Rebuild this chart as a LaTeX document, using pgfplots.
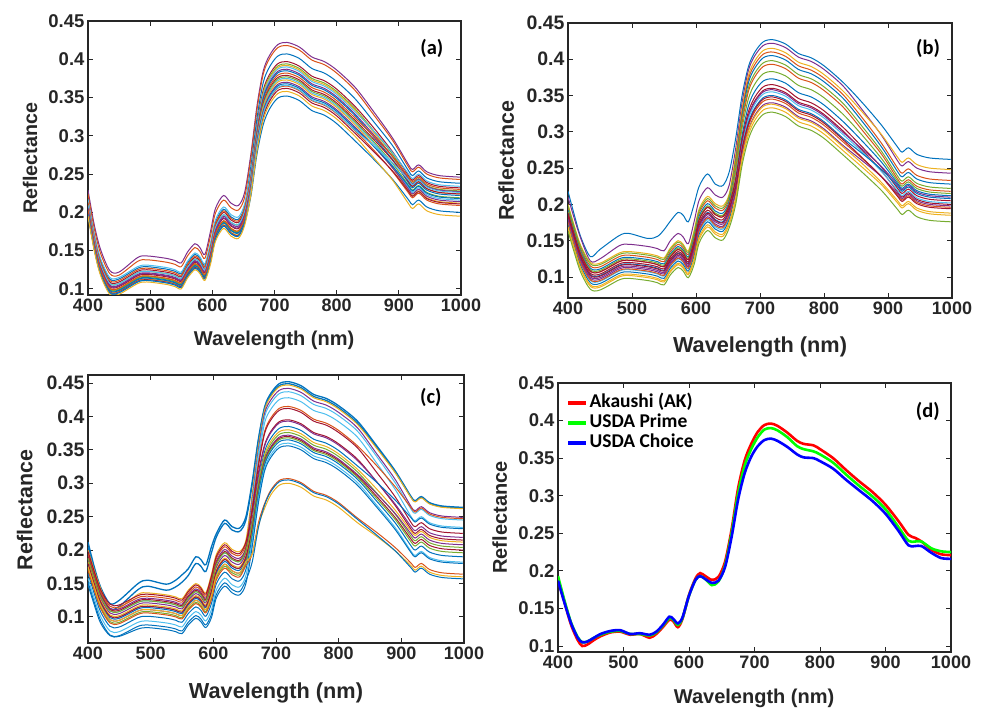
\documentclass[border=0pt]{standalone}
\usepackage{fontspec}
\setmainfont{Liberation Sans}
\newfontfamily\calib{Carlito}
\usepackage{pgfplots}
\usepackage{pgfplotstable}
\pgfplotsset{compat=1.18}
\definecolor{mb}{HTML}{0072BD}
\definecolor{mo}{HTML}{D95319}
\definecolor{my}{HTML}{EDB120}
\definecolor{mp}{HTML}{7E2F8E}
\definecolor{mg}{HTML}{77AC30}
\definecolor{mc}{HTML}{4DBEEE}
\definecolor{mr}{HTML}{A2142F}
\definecolor{axc}{HTML}{262626}

\pgfplotstableread{
lam c1 c2 c3 c4 c5 c6 c7 c8 c9 c10 c11 c12 c13 c14 c15 c16 c17 c18 c19 c20 c21
400 0.229 0.224 0.215 0.211 0.209 0.203 0.217 0.207 0.201 0.213 0.205 0.202 0.209 0.199 0.206 0.200 0.203 0.198 0.197 0.197 0.195
410 0.184 0.179 0.170 0.166 0.164 0.158 0.172 0.162 0.156 0.168 0.160 0.157 0.164 0.154 0.161 0.155 0.158 0.153 0.152 0.152 0.150
420 0.152 0.147 0.138 0.134 0.132 0.126 0.140 0.130 0.124 0.136 0.128 0.125 0.132 0.122 0.129 0.123 0.126 0.121 0.120 0.120 0.118
435 0.124 0.120 0.113 0.109 0.107 0.101 0.115 0.105 0.099 0.111 0.103 0.100 0.107 0.097 0.104 0.098 0.101 0.096 0.095 0.095 0.093
450 0.122 0.118 0.113 0.109 0.107 0.101 0.115 0.105 0.099 0.111 0.103 0.100 0.107 0.097 0.104 0.098 0.101 0.096 0.095 0.095 0.093
480 0.141 0.136 0.127 0.123 0.121 0.115 0.129 0.119 0.113 0.125 0.117 0.114 0.121 0.111 0.118 0.112 0.115 0.110 0.109 0.109 0.107
495 0.143 0.138 0.129 0.125 0.123 0.117 0.131 0.121 0.115 0.127 0.119 0.116 0.123 0.113 0.120 0.114 0.117 0.112 0.111 0.111 0.109
525 0.140 0.135 0.126 0.122 0.120 0.114 0.128 0.118 0.112 0.124 0.116 0.113 0.120 0.110 0.117 0.111 0.114 0.109 0.108 0.108 0.106
540 0.137 0.132 0.123 0.119 0.117 0.111 0.125 0.115 0.109 0.121 0.113 0.110 0.117 0.107 0.114 0.108 0.111 0.106 0.105 0.105 0.103
550 0.134 0.129 0.120 0.116 0.114 0.108 0.122 0.112 0.106 0.118 0.110 0.107 0.114 0.104 0.111 0.105 0.108 0.103 0.102 0.102 0.100
560 0.148 0.143 0.134 0.130 0.128 0.122 0.136 0.126 0.120 0.132 0.124 0.121 0.128 0.118 0.125 0.119 0.122 0.117 0.116 0.116 0.114
572 0.159 0.154 0.145 0.141 0.139 0.133 0.147 0.137 0.131 0.143 0.135 0.132 0.139 0.129 0.136 0.130 0.133 0.128 0.127 0.127 0.125
580 0.154 0.149 0.140 0.136 0.134 0.128 0.142 0.132 0.126 0.138 0.130 0.127 0.134 0.124 0.131 0.125 0.128 0.123 0.122 0.122 0.120
588 0.145 0.140 0.131 0.127 0.125 0.119 0.133 0.123 0.117 0.129 0.121 0.118 0.125 0.115 0.122 0.116 0.119 0.114 0.113 0.113 0.111
597 0.175 0.169 0.157 0.153 0.150 0.142 0.160 0.148 0.140 0.155 0.145 0.141 0.150 0.137 0.146 0.139 0.142 0.136 0.135 0.135 0.132
605 0.205 0.199 0.187 0.183 0.180 0.172 0.190 0.178 0.170 0.185 0.175 0.171 0.180 0.167 0.176 0.169 0.172 0.166 0.165 0.165 0.162
618 0.222 0.216 0.204 0.200 0.197 0.189 0.207 0.195 0.187 0.202 0.192 0.188 0.197 0.184 0.193 0.186 0.189 0.183 0.182 0.182 0.179
630 0.212 0.206 0.194 0.190 0.187 0.179 0.197 0.185 0.177 0.192 0.182 0.178 0.187 0.174 0.183 0.176 0.179 0.173 0.172 0.172 0.169
642 0.209 0.203 0.191 0.187 0.184 0.176 0.194 0.182 0.174 0.189 0.179 0.175 0.184 0.171 0.180 0.173 0.176 0.170 0.169 0.169 0.166
652 0.226 0.220 0.208 0.204 0.201 0.193 0.211 0.199 0.191 0.206 0.196 0.192 0.201 0.188 0.197 0.190 0.193 0.187 0.186 0.186 0.183
662 0.276 0.271 0.260 0.253 0.250 0.245 0.253 0.245 0.241 0.246 0.240 0.237 0.240 0.233 0.236 0.231 0.232 0.227 0.228 0.221 0.223
672 0.340 0.335 0.324 0.315 0.312 0.309 0.312 0.307 0.303 0.305 0.300 0.298 0.298 0.294 0.294 0.290 0.289 0.285 0.288 0.277 0.281
682 0.385 0.381 0.370 0.360 0.357 0.355 0.353 0.350 0.348 0.345 0.342 0.340 0.338 0.336 0.333 0.331 0.328 0.325 0.329 0.315 0.321
692 0.405 0.401 0.390 0.380 0.377 0.375 0.373 0.370 0.368 0.365 0.362 0.360 0.358 0.356 0.353 0.351 0.348 0.345 0.349 0.335 0.341
705 0.419 0.415 0.404 0.394 0.391 0.389 0.387 0.384 0.382 0.379 0.376 0.374 0.372 0.370 0.367 0.365 0.362 0.359 0.363 0.349 0.355
720 0.422 0.418 0.407 0.397 0.394 0.392 0.390 0.387 0.385 0.382 0.379 0.377 0.375 0.373 0.370 0.368 0.365 0.362 0.366 0.352 0.358
740 0.416 0.412 0.401 0.391 0.388 0.386 0.384 0.381 0.379 0.376 0.373 0.371 0.369 0.367 0.364 0.362 0.359 0.356 0.360 0.346 0.352
760 0.403 0.399 0.388 0.378 0.375 0.373 0.371 0.368 0.366 0.363 0.360 0.358 0.356 0.354 0.351 0.349 0.346 0.343 0.347 0.333 0.339
780 0.397 0.393 0.382 0.372 0.369 0.367 0.365 0.362 0.360 0.357 0.354 0.352 0.350 0.348 0.345 0.343 0.340 0.337 0.341 0.327 0.333
800 0.386 0.382 0.371 0.361 0.358 0.356 0.354 0.351 0.349 0.346 0.343 0.341 0.339 0.337 0.334 0.332 0.329 0.326 0.330 0.316 0.322
830 0.363 0.359 0.348 0.338 0.335 0.333 0.331 0.328 0.326 0.323 0.320 0.318 0.316 0.314 0.311 0.309 0.306 0.303 0.307 0.293 0.299
860 0.331 0.327 0.318 0.310 0.306 0.304 0.306 0.301 0.298 0.299 0.295 0.292 0.290 0.287 0.286 0.286 0.281 0.279 0.287 0.269 0.271
890 0.297 0.294 0.287 0.279 0.276 0.272 0.278 0.273 0.269 0.273 0.268 0.264 0.261 0.258 0.258 0.260 0.253 0.254 0.265 0.243 0.242
915 0.263 0.260 0.255 0.249 0.245 0.241 0.251 0.244 0.239 0.247 0.241 0.236 0.233 0.229 0.231 0.235 0.226 0.228 0.243 0.217 0.212
922 0.256 0.253 0.248 0.242 0.238 0.234 0.244 0.237 0.232 0.240 0.234 0.229 0.226 0.222 0.224 0.228 0.219 0.221 0.236 0.210 0.205
932 0.262 0.259 0.254 0.248 0.244 0.240 0.250 0.243 0.238 0.246 0.240 0.235 0.232 0.228 0.230 0.234 0.225 0.227 0.242 0.216 0.211
945 0.253 0.250 0.245 0.239 0.235 0.231 0.241 0.234 0.229 0.237 0.231 0.226 0.223 0.219 0.221 0.225 0.216 0.218 0.233 0.207 0.202
965 0.248 0.245 0.240 0.234 0.230 0.226 0.236 0.229 0.224 0.232 0.226 0.221 0.218 0.214 0.216 0.220 0.211 0.213 0.228 0.202 0.197
998 0.246 0.243 0.238 0.232 0.228 0.224 0.234 0.227 0.222 0.230 0.224 0.219 0.216 0.212 0.214 0.218 0.209 0.211 0.226 0.200 0.195
}\tA

\pgfplotstableread{
lam c1 c2 c3 c4 c5 c6 c7 c8 c9 c10 c11 c12 c13 c14 c15 c16 c17 c18 c19 c20
400 0.218 0.210 0.200 0.195 0.192 0.198 0.188 0.190 0.183 0.188 0.182 0.178 0.175 0.172 0.176 0.180 0.169 0.185 0.167 0.163
410 0.185 0.180 0.170 0.165 0.162 0.168 0.158 0.160 0.153 0.158 0.152 0.148 0.145 0.142 0.146 0.150 0.139 0.155 0.137 0.133
420 0.155 0.153 0.143 0.138 0.135 0.141 0.131 0.133 0.126 0.131 0.125 0.121 0.118 0.115 0.119 0.123 0.112 0.128 0.110 0.106
435 0.128 0.122 0.120 0.115 0.112 0.118 0.108 0.110 0.103 0.108 0.102 0.098 0.095 0.092 0.096 0.100 0.089 0.105 0.087 0.083
450 0.138 0.125 0.119 0.114 0.111 0.117 0.107 0.109 0.102 0.107 0.101 0.097 0.094 0.091 0.095 0.099 0.088 0.104 0.086 0.082
480 0.157 0.143 0.133 0.128 0.125 0.131 0.121 0.123 0.116 0.121 0.115 0.111 0.108 0.105 0.109 0.113 0.102 0.118 0.100 0.096
495 0.160 0.145 0.135 0.130 0.127 0.133 0.123 0.125 0.118 0.123 0.117 0.113 0.110 0.107 0.111 0.115 0.104 0.120 0.102 0.098
525 0.153 0.142 0.132 0.127 0.124 0.130 0.120 0.122 0.115 0.120 0.114 0.110 0.107 0.104 0.108 0.112 0.101 0.117 0.099 0.095
540 0.156 0.139 0.129 0.124 0.121 0.127 0.117 0.119 0.112 0.117 0.111 0.107 0.104 0.101 0.105 0.109 0.098 0.114 0.096 0.092
550 0.165 0.136 0.126 0.121 0.118 0.124 0.114 0.116 0.109 0.114 0.108 0.104 0.101 0.098 0.102 0.106 0.095 0.111 0.093 0.089
560 0.177 0.150 0.140 0.135 0.132 0.138 0.128 0.130 0.123 0.128 0.122 0.118 0.115 0.112 0.116 0.120 0.109 0.125 0.107 0.103
572 0.189 0.160 0.150 0.145 0.142 0.148 0.138 0.140 0.133 0.138 0.132 0.128 0.125 0.122 0.126 0.130 0.119 0.135 0.117 0.113
580 0.185 0.155 0.145 0.140 0.137 0.143 0.133 0.135 0.128 0.133 0.127 0.123 0.120 0.117 0.121 0.125 0.114 0.130 0.112 0.108
588 0.176 0.146 0.136 0.131 0.128 0.134 0.124 0.126 0.119 0.124 0.118 0.114 0.111 0.108 0.112 0.116 0.105 0.121 0.103 0.099
597 0.200 0.176 0.164 0.158 0.154 0.161 0.149 0.151 0.142 0.149 0.141 0.136 0.132 0.129 0.134 0.139 0.125 0.145 0.122 0.117
605 0.225 0.206 0.194 0.188 0.184 0.191 0.179 0.181 0.172 0.179 0.171 0.166 0.162 0.159 0.164 0.169 0.155 0.175 0.152 0.147
618 0.242 0.223 0.211 0.205 0.201 0.208 0.196 0.198 0.189 0.196 0.188 0.183 0.179 0.176 0.181 0.186 0.172 0.192 0.169 0.164
630 0.228 0.213 0.201 0.195 0.191 0.198 0.186 0.188 0.179 0.186 0.178 0.173 0.169 0.166 0.171 0.176 0.162 0.182 0.159 0.154
642 0.226 0.210 0.198 0.192 0.188 0.195 0.183 0.185 0.176 0.183 0.175 0.170 0.166 0.163 0.168 0.173 0.159 0.179 0.156 0.151
652 0.245 0.227 0.215 0.209 0.205 0.212 0.200 0.202 0.193 0.200 0.192 0.187 0.183 0.180 0.185 0.190 0.176 0.196 0.173 0.168
662 0.291 0.277 0.268 0.262 0.258 0.258 0.249 0.245 0.235 0.235 0.228 0.225 0.221 0.217 0.217 0.217 0.209 0.224 0.205 0.200
672 0.350 0.340 0.332 0.327 0.322 0.318 0.312 0.305 0.295 0.290 0.285 0.282 0.279 0.274 0.272 0.269 0.264 0.277 0.260 0.254
682 0.390 0.385 0.378 0.373 0.368 0.361 0.356 0.346 0.336 0.328 0.323 0.321 0.318 0.313 0.308 0.303 0.301 0.311 0.296 0.290
692 0.410 0.405 0.398 0.393 0.388 0.381 0.376 0.366 0.356 0.348 0.343 0.341 0.338 0.333 0.328 0.323 0.321 0.331 0.316 0.310
705 0.424 0.419 0.412 0.407 0.402 0.395 0.390 0.380 0.370 0.362 0.357 0.355 0.352 0.347 0.342 0.337 0.335 0.345 0.330 0.324
720 0.427 0.422 0.415 0.410 0.405 0.398 0.393 0.383 0.373 0.365 0.360 0.358 0.355 0.350 0.345 0.340 0.338 0.348 0.333 0.327
740 0.421 0.416 0.409 0.404 0.399 0.392 0.387 0.377 0.367 0.359 0.354 0.352 0.349 0.344 0.339 0.334 0.332 0.342 0.327 0.321
760 0.408 0.403 0.396 0.391 0.386 0.379 0.374 0.364 0.354 0.346 0.341 0.339 0.336 0.331 0.326 0.321 0.319 0.329 0.314 0.308
780 0.402 0.397 0.390 0.385 0.380 0.373 0.368 0.358 0.348 0.340 0.335 0.333 0.330 0.325 0.320 0.315 0.313 0.323 0.308 0.302
800 0.391 0.386 0.379 0.374 0.369 0.362 0.357 0.347 0.337 0.329 0.324 0.322 0.319 0.314 0.309 0.304 0.302 0.312 0.297 0.291
830 0.368 0.363 0.356 0.351 0.346 0.339 0.334 0.324 0.314 0.306 0.301 0.299 0.296 0.291 0.286 0.281 0.279 0.289 0.274 0.268
860 0.340 0.330 0.327 0.319 0.314 0.307 0.302 0.295 0.287 0.279 0.274 0.276 0.272 0.270 0.263 0.260 0.256 0.264 0.251 0.244
890 0.309 0.295 0.296 0.284 0.279 0.273 0.269 0.263 0.258 0.251 0.246 0.252 0.245 0.248 0.238 0.238 0.230 0.238 0.227 0.219
915 0.279 0.260 0.265 0.250 0.245 0.239 0.235 0.232 0.229 0.222 0.217 0.227 0.219 0.225 0.213 0.215 0.205 0.211 0.202 0.193
922 0.272 0.253 0.258 0.243 0.238 0.232 0.228 0.225 0.222 0.215 0.210 0.220 0.212 0.218 0.206 0.208 0.198 0.204 0.195 0.186
932 0.278 0.259 0.264 0.249 0.244 0.238 0.234 0.231 0.228 0.221 0.216 0.226 0.218 0.224 0.212 0.214 0.204 0.210 0.201 0.192
945 0.269 0.250 0.255 0.240 0.235 0.229 0.225 0.222 0.219 0.212 0.207 0.217 0.209 0.215 0.203 0.205 0.195 0.201 0.192 0.183
965 0.264 0.245 0.250 0.235 0.230 0.224 0.220 0.217 0.214 0.207 0.202 0.212 0.204 0.210 0.198 0.200 0.190 0.196 0.187 0.178
998 0.262 0.243 0.248 0.233 0.228 0.222 0.218 0.215 0.212 0.205 0.200 0.210 0.202 0.208 0.196 0.198 0.188 0.194 0.185 0.176
}\tB

\pgfplotstableread{
lam c1 c2 c3 c4 c5 c6 c7 c8 c9 c10 c11 c12 c13 c14 c15 c16 c17 c18 c19 c20 c21 c22
400 0.212 0.200 0.192 0.188 0.180 0.195 0.190 0.198 0.185 0.178 0.182 0.188 0.175 0.180 0.172 0.165 0.158 0.148 0.170 0.175 0.152 0.205
410 0.175 0.170 0.162 0.158 0.150 0.165 0.160 0.168 0.155 0.148 0.152 0.158 0.145 0.150 0.142 0.135 0.128 0.118 0.140 0.145 0.122 0.168
420 0.145 0.143 0.135 0.131 0.123 0.138 0.133 0.141 0.128 0.121 0.125 0.131 0.118 0.123 0.115 0.108 0.101 0.091 0.113 0.118 0.095 0.137
435 0.120 0.112 0.113 0.109 0.101 0.116 0.111 0.119 0.106 0.099 0.103 0.109 0.096 0.101 0.093 0.086 0.079 0.072 0.091 0.096 0.073 0.112
450 0.125 0.113 0.112 0.108 0.100 0.115 0.110 0.118 0.105 0.098 0.102 0.108 0.095 0.100 0.092 0.085 0.078 0.071 0.090 0.095 0.072 0.116
480 0.150 0.134 0.126 0.122 0.114 0.129 0.124 0.132 0.119 0.112 0.116 0.122 0.109 0.114 0.106 0.099 0.092 0.082 0.104 0.109 0.086 0.141
495 0.155 0.136 0.128 0.124 0.116 0.131 0.126 0.134 0.121 0.114 0.118 0.124 0.111 0.116 0.108 0.101 0.094 0.084 0.106 0.111 0.088 0.146
525 0.149 0.133 0.125 0.121 0.113 0.128 0.123 0.131 0.118 0.111 0.115 0.121 0.108 0.113 0.105 0.098 0.091 0.081 0.103 0.108 0.085 0.140
540 0.155 0.130 0.122 0.118 0.110 0.125 0.120 0.128 0.115 0.108 0.112 0.118 0.105 0.110 0.102 0.095 0.088 0.078 0.100 0.105 0.082 0.145
550 0.163 0.127 0.119 0.115 0.107 0.122 0.117 0.125 0.112 0.105 0.109 0.115 0.102 0.107 0.099 0.092 0.085 0.075 0.097 0.102 0.079 0.152
560 0.172 0.140 0.132 0.128 0.120 0.135 0.130 0.138 0.125 0.118 0.122 0.128 0.115 0.120 0.112 0.105 0.098 0.088 0.110 0.115 0.092 0.162
572 0.190 0.150 0.142 0.138 0.130 0.145 0.140 0.148 0.135 0.128 0.132 0.138 0.125 0.130 0.122 0.115 0.108 0.098 0.120 0.125 0.102 0.180
580 0.186 0.145 0.137 0.133 0.125 0.140 0.135 0.143 0.130 0.123 0.127 0.133 0.120 0.125 0.117 0.110 0.103 0.093 0.115 0.120 0.097 0.176
588 0.178 0.136 0.128 0.124 0.116 0.131 0.126 0.134 0.121 0.114 0.118 0.124 0.111 0.116 0.108 0.101 0.094 0.084 0.106 0.111 0.088 0.168
597 0.205 0.164 0.154 0.149 0.139 0.158 0.151 0.161 0.145 0.136 0.141 0.149 0.132 0.139 0.129 0.120 0.111 0.099 0.126 0.132 0.104 0.196
605 0.225 0.194 0.184 0.179 0.169 0.188 0.181 0.191 0.175 0.166 0.171 0.179 0.162 0.169 0.159 0.150 0.141 0.129 0.156 0.162 0.134 0.220
618 0.245 0.211 0.201 0.196 0.186 0.205 0.198 0.208 0.192 0.183 0.188 0.196 0.179 0.186 0.176 0.167 0.158 0.146 0.173 0.179 0.151 0.240
630 0.235 0.201 0.191 0.186 0.176 0.195 0.188 0.198 0.182 0.173 0.178 0.186 0.169 0.176 0.166 0.157 0.148 0.136 0.163 0.169 0.141 0.230
642 0.233 0.198 0.188 0.183 0.173 0.192 0.185 0.195 0.179 0.170 0.175 0.183 0.166 0.173 0.163 0.154 0.145 0.133 0.160 0.166 0.138 0.228
652 0.250 0.215 0.205 0.200 0.190 0.209 0.202 0.212 0.196 0.187 0.192 0.200 0.183 0.190 0.180 0.171 0.162 0.150 0.177 0.183 0.155 0.245
662 0.302 0.284 0.276 0.271 0.262 0.265 0.260 0.256 0.247 0.238 0.238 0.241 0.230 0.232 0.226 0.220 0.213 0.205 0.194 0.194 0.182 0.298
672 0.367 0.356 0.350 0.345 0.335 0.330 0.326 0.316 0.311 0.302 0.300 0.299 0.291 0.292 0.288 0.283 0.277 0.271 0.241 0.237 0.234 0.364
682 0.415 0.410 0.405 0.400 0.391 0.378 0.375 0.358 0.356 0.348 0.343 0.339 0.335 0.333 0.331 0.328 0.323 0.319 0.270 0.263 0.268 0.412
692 0.435 0.430 0.425 0.420 0.411 0.398 0.395 0.378 0.376 0.368 0.363 0.359 0.355 0.353 0.351 0.348 0.343 0.339 0.290 0.283 0.288 0.432
705 0.449 0.444 0.439 0.434 0.425 0.412 0.409 0.392 0.390 0.382 0.377 0.373 0.369 0.367 0.365 0.362 0.357 0.353 0.304 0.297 0.302 0.446
720 0.452 0.447 0.442 0.437 0.428 0.415 0.412 0.395 0.393 0.385 0.380 0.376 0.372 0.370 0.368 0.365 0.360 0.356 0.307 0.300 0.305 0.449
740 0.446 0.441 0.436 0.431 0.422 0.409 0.406 0.389 0.387 0.379 0.374 0.370 0.366 0.364 0.362 0.359 0.354 0.350 0.301 0.294 0.299 0.443
760 0.433 0.428 0.423 0.418 0.409 0.396 0.393 0.376 0.374 0.366 0.361 0.357 0.353 0.351 0.349 0.346 0.341 0.337 0.288 0.281 0.286 0.430
780 0.427 0.422 0.417 0.412 0.403 0.390 0.387 0.370 0.368 0.360 0.355 0.351 0.347 0.345 0.343 0.340 0.335 0.331 0.282 0.275 0.280 0.424
800 0.416 0.411 0.406 0.401 0.392 0.379 0.376 0.359 0.357 0.349 0.344 0.340 0.336 0.334 0.332 0.329 0.324 0.320 0.271 0.264 0.269 0.413
830 0.393 0.388 0.383 0.378 0.369 0.356 0.353 0.336 0.334 0.326 0.321 0.317 0.313 0.311 0.309 0.306 0.301 0.297 0.248 0.241 0.246 0.390
860 0.357 0.353 0.345 0.341 0.331 0.327 0.317 0.303 0.303 0.302 0.292 0.286 0.285 0.281 0.278 0.274 0.268 0.265 0.227 0.221 0.223 0.355
890 0.319 0.316 0.306 0.301 0.291 0.295 0.280 0.267 0.269 0.275 0.260 0.254 0.255 0.249 0.246 0.241 0.234 0.231 0.204 0.199 0.199 0.317
915 0.281 0.279 0.266 0.262 0.251 0.264 0.242 0.232 0.236 0.249 0.229 0.221 0.225 0.217 0.213 0.207 0.199 0.197 0.181 0.177 0.174 0.280
922 0.274 0.272 0.259 0.255 0.244 0.257 0.235 0.225 0.229 0.242 0.222 0.214 0.218 0.210 0.206 0.200 0.192 0.190 0.174 0.170 0.167 0.273
932 0.280 0.278 0.265 0.261 0.250 0.263 0.241 0.231 0.235 0.248 0.228 0.220 0.224 0.216 0.212 0.206 0.198 0.196 0.180 0.176 0.173 0.279
945 0.271 0.269 0.256 0.252 0.241 0.254 0.232 0.222 0.226 0.239 0.219 0.211 0.215 0.207 0.203 0.197 0.189 0.187 0.171 0.167 0.164 0.270
965 0.266 0.264 0.251 0.247 0.236 0.249 0.227 0.217 0.221 0.234 0.214 0.206 0.210 0.202 0.198 0.192 0.184 0.182 0.166 0.162 0.159 0.265
998 0.264 0.262 0.249 0.245 0.234 0.247 0.225 0.215 0.219 0.232 0.212 0.204 0.208 0.200 0.196 0.190 0.182 0.180 0.164 0.160 0.157 0.263
}\tC

\pgfplotstableread{
lam ak pr ch
400 0.188 0.193 0.187
410 0.158 0.160 0.157
420 0.128 0.131 0.130
430 0.108 0.112 0.111
437 0.100 0.105 0.105
445 0.102 0.106 0.106
455 0.108 0.111 0.111
465 0.113 0.115 0.116
480 0.118 0.119 0.120
495 0.119 0.120 0.121
510 0.115 0.116 0.116
525 0.116 0.116 0.117
540 0.111 0.114 0.115
550 0.116 0.118 0.119
560 0.125 0.127 0.128
570 0.135 0.137 0.139
576 0.133 0.135 0.136
583 0.125 0.128 0.130
590 0.136 0.137 0.138
600 0.168 0.167 0.167
610 0.190 0.188 0.188
617 0.197 0.193 0.193
625 0.193 0.189 0.189
635 0.188 0.181 0.184
645 0.192 0.186 0.187
655 0.212 0.207 0.205
665 0.255 0.250 0.245
675 0.310 0.303 0.295
685 0.347 0.340 0.330
695 0.369 0.362 0.352
705 0.385 0.378 0.366
715 0.394 0.388 0.374
725 0.396 0.390 0.376
735 0.393 0.387 0.373
750 0.384 0.378 0.365
765 0.373 0.366 0.355
775 0.369 0.362 0.351
790 0.367 0.359 0.350
800 0.362 0.355 0.346
820 0.350 0.344 0.336
840 0.334 0.328 0.321
860 0.319 0.313 0.307
880 0.305 0.299 0.293
900 0.288 0.282 0.276
920 0.266 0.258 0.253
935 0.248 0.240 0.234
945 0.244 0.239 0.233
955 0.239 0.239 0.233
970 0.228 0.230 0.224
985 0.222 0.226 0.217
1000 0.221 0.225 0.216
}\tD

\pgfplotsset{
  mat/.style={
    scale only axis,
    axis line style={draw=axc, line width=1.2pt},
    tick style={draw=axc, line width=0.9pt},
    major tick length=5pt,
    tick align=inside,
    xmin=400, xmax=1000,
    xtick={400,500,600,700,800,900,1000},
    xticklabels={400,500,600,700,800,900,1000},
    ytick={0.1,0.15,0.2,0.25,0.3,0.35,0.4,0.45},
    yticklabels={0.1,0.15,0.2,0.25,0.3,0.35,0.4,0.45},
    /pgf/number format/assume math mode=true,
    xticklabel style={font=\fontsize{18}{20}\selectfont\bfseries, text=axc},
    yticklabel style={font=\fontsize{18.5}{20}\selectfont\bfseries, text=axc},
    xlabel={Wavelength (nm)}, ylabel={Reflectance},
    table/x=lam,
    every axis plot/.append style={no markers, line width=1pt, smooth, tension=0.5},
  }
}
\newcommand{\cv}[3]{\addplot[#1] table[y=c#2]{#3};}

\begin{document}
\begin{tikzpicture}
\path[use as bounding box] (0,0) rectangle (987pt,709pt);

% (a)
\begin{axis}[mat, at={(88pt,414pt)}, anchor=south west, width=373pt, height=274pt,
  ymin=0.092, ymax=0.45,
  xlabel style={at={(axis description cs:0.499,-0.164)}, anchor=center, font=\fontsize{20}{22}\selectfont\bfseries, text=axc},
  ylabel style={at={(axis description cs:-0.155,0.5)}, anchor=center, font=\fontsize{19.7}{22}\selectfont\bfseries, text=axc}]
\cv{mp}{1}{\tA}\cv{mo}{2}{\tA}\cv{mb}{3}{\tA}\cv{mr}{4}{\tA}\cv{mg}{5}{\tA}\cv{my}{6}{\tA}\cv{mc}{7}{\tA}
\cv{mp}{8}{\tA}\cv{mb}{9}{\tA}\cv{mo}{10}{\tA}\cv{mr}{11}{\tA}\cv{mg}{12}{\tA}\cv{mc}{13}{\tA}\cv{my}{14}{\tA}
\cv{mp}{15}{\tA}\cv{mb}{16}{\tA}\cv{mo}{17}{\tA}\cv{mr}{18}{\tA}\cv{mc}{19}{\tA}\cv{mb}{20}{\tA}\cv{my}{21}{\tA}
\node[font=\calib\bfseries\fontsize{20.5}{22}\selectfont] at (rel axis cs:0.922,0.898) {(a)};
\end{axis}

% (b)
\begin{axis}[mat, at={(568pt,411pt)}, anchor=south west, width=384pt, height=275pt,
  ymin=0.071, ymax=0.45,
  yticklabel style={font=\fontsize{19.5}{21}\selectfont\bfseries},
  xlabel style={at={(axis description cs:0.5,-0.178)}, anchor=center, font=\fontsize{21.7}{24}\selectfont\bfseries, text=axc},
  ylabel style={at={(axis description cs:-0.161,0.5)}, anchor=center, font=\fontsize{21.4}{24}\selectfont\bfseries, text=axc}]
\cv{mb}{1}{\tB}\cv{mp}{2}{\tB}\cv{my}{3}{\tB}\cv{mo}{4}{\tB}\cv{mb}{5}{\tB}\cv{mg}{6}{\tB}\cv{mo}{7}{\tB}
\cv{mg}{8}{\tB}\cv{mb}{9}{\tB}\cv{mr}{10}{\tB}\cv{mr}{11}{\tB}\cv{mp}{12}{\tB}\cv{mc}{13}{\tB}\cv{mb}{14}{\tB}
\cv{mo}{15}{\tB}\cv{mp}{16}{\tB}\cv{my}{17}{\tB}\cv{mr}{18}{\tB}\cv{my}{19}{\tB}\cv{mg}{20}{\tB}
\node[font=\calib\bfseries\fontsize{20.5}{22}\selectfont] at (rel axis cs:0.9375,0.909) {(b)};
\end{axis}

% (c)
\begin{axis}[mat, at={(88pt,66pt)}, anchor=south west, width=376pt, height=268pt,
  ymin=0.061, ymax=0.462,
  yticklabel style={font=\fontsize{19.5}{21}\selectfont\bfseries},
  xlabel style={at={(axis description cs:0.5,-0.187)}, anchor=center, font=\fontsize{21.7}{24}\selectfont\bfseries, text=axc},
  ylabel style={at={(axis description cs:-0.168,0.496)}, anchor=center, font=\fontsize{21.4}{24}\selectfont\bfseries, text=axc}]
\cv{mb, line width=1.3pt}{1}{\tC}\cv{mb, line width=1.3pt}{22}{\tC}\cv{my}{2}{\tC}\cv{mp}{3}{\tC}\cv{mc}{4}{\tC}\cv{mc}{5}{\tC}\cv{mo}{6}{\tC}\cv{mr}{7}{\tC}
\cv{mr}{8}{\tC}\cv{mp}{9}{\tC}\cv{mb}{10}{\tC}\cv{my}{11}{\tC}\cv{mg}{12}{\tC}\cv{mp}{13}{\tC}\cv{mr}{14}{\tC}
\cv{mg}{15}{\tC}\cv{mb}{16}{\tC}\cv{mc}{17}{\tC}\cv{mb}{18}{\tC}\cv{mo}{19}{\tC}\cv{my}{20}{\tC}\cv{mb}{21}{\tC}
\node[font=\calib\bfseries\fontsize{20.5}{22}\selectfont] at (rel axis cs:0.912,0.918) {(c)};
\end{axis}

% (d)
\begin{axis}[mat, at={(558pt,57pt)}, anchor=south west, width=393pt, height=269pt,
  ymin=0.092, ymax=0.45,
  xlabel style={at={(axis description cs:0.499,-0.171)}, anchor=center, font=\fontsize{20}{22}\selectfont\bfseries, text=axc},
  ylabel style={at={(axis description cs:-0.148,0.5)}, anchor=center, font=\fontsize{20}{22}\selectfont\bfseries, text=axc},
  every axis plot/.append style={line width=2.6pt},
  legend style={at={(rel axis cs:0.02,0.965)}, anchor=north west, draw=none, fill=none,
    font=\calib\bfseries\fontsize{19.5}{21}\selectfont, inner sep=0pt, row sep=0pt,
    nodes={inner sep=1.5pt, text height=13pt, text depth=4pt},
    /tikz/every even column/.append style={column sep=6pt}},
  legend cell align=left,
  legend image code/.code={\draw[#1, line width=4pt] (0pt,0pt) -- (18pt,0pt);}]
\addplot[color={rgb,255:red,255;green,0;blue,0}] table[y=ak]{\tD};
\addlegendentry{Akaushi (AK)}
\addplot[color={rgb,255:red,0;green,255;blue,0}] table[y=pr]{\tD};
\addlegendentry{USDA Prime}
\addplot[color={rgb,255:red,0;green,0;blue,255}] table[y=ch]{\tD};
\addlegendentry{USDA Choice}
\node[font=\calib\bfseries\fontsize{20.5}{22}\selectfont] at (rel axis cs:0.941,0.896) {(d)};
\end{axis}
\end{tikzpicture}
\end{document}
